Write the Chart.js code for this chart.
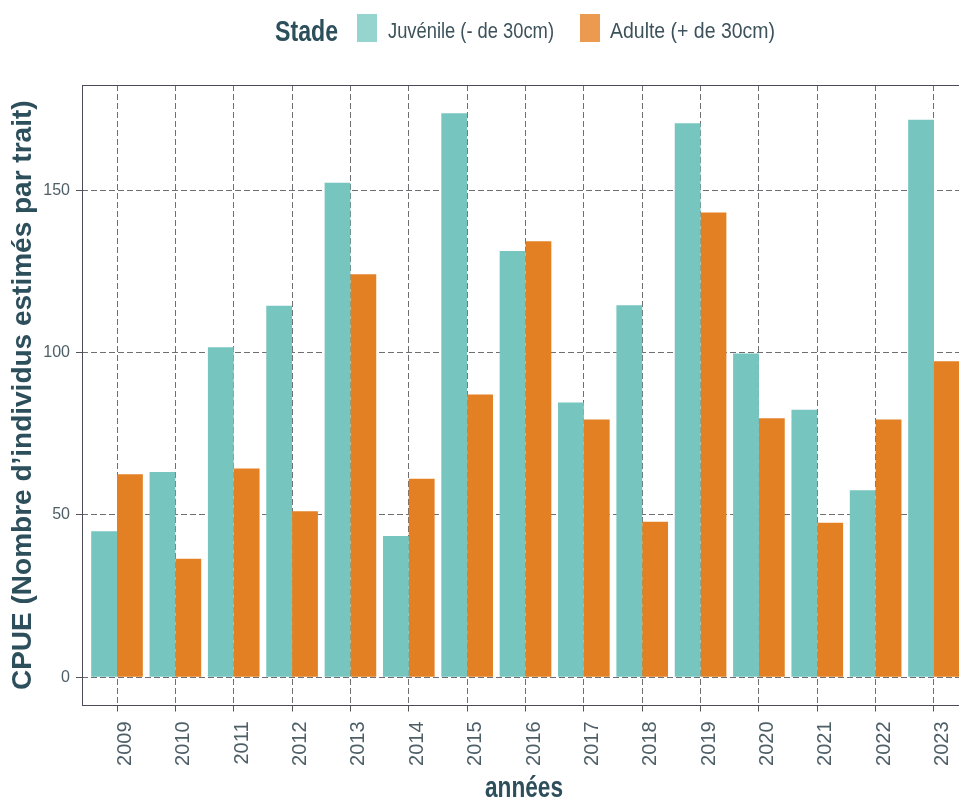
<!DOCTYPE html>
<html>
<head>
<meta charset="utf-8">
<script src="https://cdn.jsdelivr.net/npm/chart.js@4.4.1/dist/chart.umd.min.js"></script>
<style>
  body { margin: 0; overflow: hidden; background: #fff; }
  .wrap { position: relative; width: 990px; height: 805px; }
  #myChart { position: absolute; left: 0; top: 0; }
  /* no narrow font installed, so the text is squeezed with scaleX */
  .leg { position: absolute; white-space: nowrap; transform-origin: 0 50%;
         font-family: "Liberation Sans", Arial, sans-serif; }
  .leg-title { left: 275px; top: 16px; line-height: 30px; font-size: 29px; font-weight: bold; color: #2d4f5c; }
  .leg-text { top: 17px; line-height: 28px; font-size: 22px; color: #3d525b; }
  .x-title { left: 485px; top: 772px; line-height: 30px; font-size: 29px; font-weight: bold; color: #2d4f5c; }
  .key { position: absolute; top: 14px; width: 20px; height: 28px; }
</style>
</head>
<body>
<div class="wrap">
  <canvas id="myChart" width="990" height="805"></canvas>
  <span class="leg leg-title" data-w="63">Stade</span>
  <span class="key" style="left:357px; background:#96d4cf;"></span>
  <span class="leg leg-text" data-w="166" style="left:388px;">Juvénile (- de 30cm)</span>
  <span class="key" style="left:580px; background:#ec9a50;"></span>
  <span class="leg leg-text" data-w="165" style="left:610px;">Adulte (+ de 30cm)</span>
  <span class="leg x-title" data-w="78">années</span>
</div>
<script>
var years = ["2009", "2010", "2011", "2012", "2013", "2014", "2015", "2016",
             "2017", "2018", "2019", "2020", "2021", "2022", "2023"];
var juvenile = [45, 63.2, 101.6, 114.4, 152.3, 43.5, 173.7, 131.3, 84.6, 114.6, 170.6, 99.7, 82.4, 57.6, 171.7];
var adulte = [62.5, 36.5, 64.3, 51.1, 124.1, 61.1, 87.1, 134.3, 79.4, 47.9, 143.1, 79.8, 47.6, 79.4, 97.3];
var yTicks = [0, 50, 100, 150];

var tealBar = "#76c6bf";
var orangeBar = "#e38023";
var gridColor = "rgba(95, 95, 100, 0.9)";
var tickColor = "#4d5e66";
var titleColor = "#2d4f5c";
var sans = "'Liberation Sans', Arial, sans-serif";

// squeeze html labels to their measured width
document.querySelectorAll(".leg").forEach((el) => {
  var w = el.getBoundingClientRect().width;
  el.style.transform = "scaleX(" + el.dataset.w / w + ")";
});

function toPoints(values) {
  return values.map((v, i) => ({ x: i, y: v }));
}

// ggplot style panel border, drawn over the bars
const panelBorder = {
  id: "panelBorder",
  afterDatasetsDraw(chart) {
    const { ctx, chartArea: a } = chart;
    ctx.save();
    ctx.strokeStyle = "#4b4b5a";
    ctx.lineWidth = 1;
    ctx.strokeRect(Math.round(a.left) + 0.5, Math.round(a.top) + 0.5,
      Math.round(a.right - a.left) - 1, Math.round(a.bottom - a.top) - 1);
    ctx.restore();
  },
};

const ctx = document.getElementById("myChart").getContext("2d");

new Chart(ctx, {
  type: "bar",
  data: {
    datasets: [
      { label: "Juvénile (- de 30cm)", data: toPoints(juvenile), backgroundColor: tealBar },
      { label: "Adulte (+ de 30cm)", data: toPoints(adulte), backgroundColor: orangeBar },
    ],
  },
  options: {
    responsive: false,
    animation: false,
    categoryPercentage: 0.885,
    barPercentage: 1.0,
    layout: { padding: { top: 85, left: 0, right: 21, bottom: 0 } },
    plugins: {
      legend: { display: false },
      tooltip: { enabled: false },
    },
    scales: {
      x: {
        type: "linear",
        min: -0.6,
        max: 14.6,
        offset: false,
        afterBuildTicks: (s) => { s.ticks = years.map((_, i) => ({ value: i })); },
        afterFit: (s) => { s.height = 99.5; },
        grid: { offset: false, color: gridColor, lineWidth: 1, tickLength: 6, tickColor: "#555" },
        border: { display: false, dash: [6, 3] },
        ticks: {
          callback: (v) => years[v],
          autoSkip: false,
          minRotation: 90,
          maxRotation: 90,
          labelOffset: 8.5,
          padding: 10,
          color: tickColor,
          font: { family: sans, size: 20 },
        },
        title: { display: false },
      },
      y: {
        min: -8.7,
        max: 182.4,
        afterBuildTicks: (s) => { s.ticks = yTicks.map((v) => ({ value: v })); },
        afterFit: (s) => { s.width = 82; },
        grid: { color: gridColor, lineWidth: 1, tickLength: 6, tickColor: "#555" },
        border: { display: false, dash: [6, 3] },
        ticks: { color: tickColor, padding: 6, font: { family: sans, size: 16 } },
        title: {
          display: true,
          text: "CPUE (Nombre d’individus estimés par trait)",
          color: titleColor,
          font: { family: sans, size: 28, weight: "bold" },
          padding: { top: 6, bottom: 0 },
        },
      },
    },
  },
  plugins: [panelBorder],
});
</script>
</body>
</html>
